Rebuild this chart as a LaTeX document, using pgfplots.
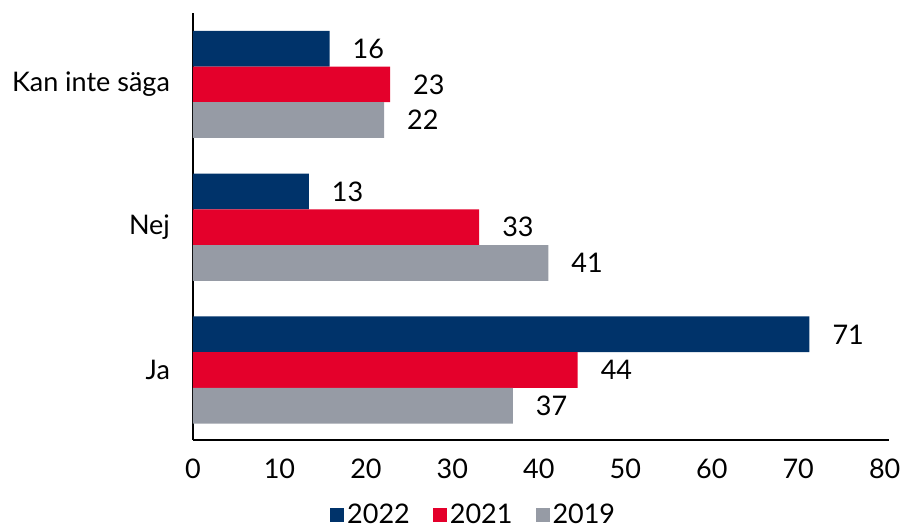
\documentclass[border=0pt]{standalone}
\usepackage{fontspec}
\setmainfont{Lato}
\usepackage{pgfplots}
\pgfplotsset{compat=1.18}
\definecolor{c22}{HTML}{00336A}
\definecolor{c21}{HTML}{E4002B}
\definecolor{c19}{HTML}{969BA5}
\newcommand{\lblfont}{\fontsize{13.5}{15}\selectfont}
\begin{document}
\begin{tikzpicture}
\path[use as bounding box] (-96.5pt,-44pt) rectangle (355.5pt,220pt);
\begin{axis}[
  scale only axis, width=348pt, height=213.5pt,
  xbar, bar width=0.25,
  xmin=0, xmax=80.5, ymin=-0.49, ymax=2.5,
  axis x line=bottom, axis y line=left,
  axis line style={-, line width=0.8pt},
  xtick={0,10,...,80}, ytick={0,1,2},
  yticklabels={Ja,Nej,Kan inte säga},
  major tick length=0pt,
  tick label style={font=\lblfont, text=black},
  /pgf/number format/assume math mode=true,
  xticklabel style={yshift=-6pt},
  yticklabel style={xshift=-8pt},
  nodes near coords, point meta=explicit symbolic,
  every node near coord/.append style={anchor=west, xshift=8pt, font=\lblfont, text=black},
  legend columns=3,
  legend style={at={(0.404,-0.175)}, anchor=center, draw=none, font=\lblfont,
    /tikz/every even column/.append style={column sep=10pt},
    nodes={inner xsep=1.5pt, inner ysep=1pt}},
  legend image code/.code={\fill[#1] (0pt,-3.6pt) rectangle (7pt,3.4pt);},
]
\addplot[fill=c22, draw=none, bar shift=0.25] table[x=x, y=y, meta=l] {
x y l
71.3 0 71
13.4 1 13
15.8 2 16
};
\addplot[fill=c21, draw=none, bar shift=0] table[x=x, y=y, meta=l] {
x y l
44.5 0 44
33.1 1 33
22.8 2 23
};
\addplot[fill=c19, draw=none, bar shift=-0.25] table[x=x, y=y, meta=l] {
x y l
37.0 0 37
41.1 1 41
22.1 2 22
};
\legend{2022,2021,2019}
\end{axis}
\end{tikzpicture}
\end{document}
